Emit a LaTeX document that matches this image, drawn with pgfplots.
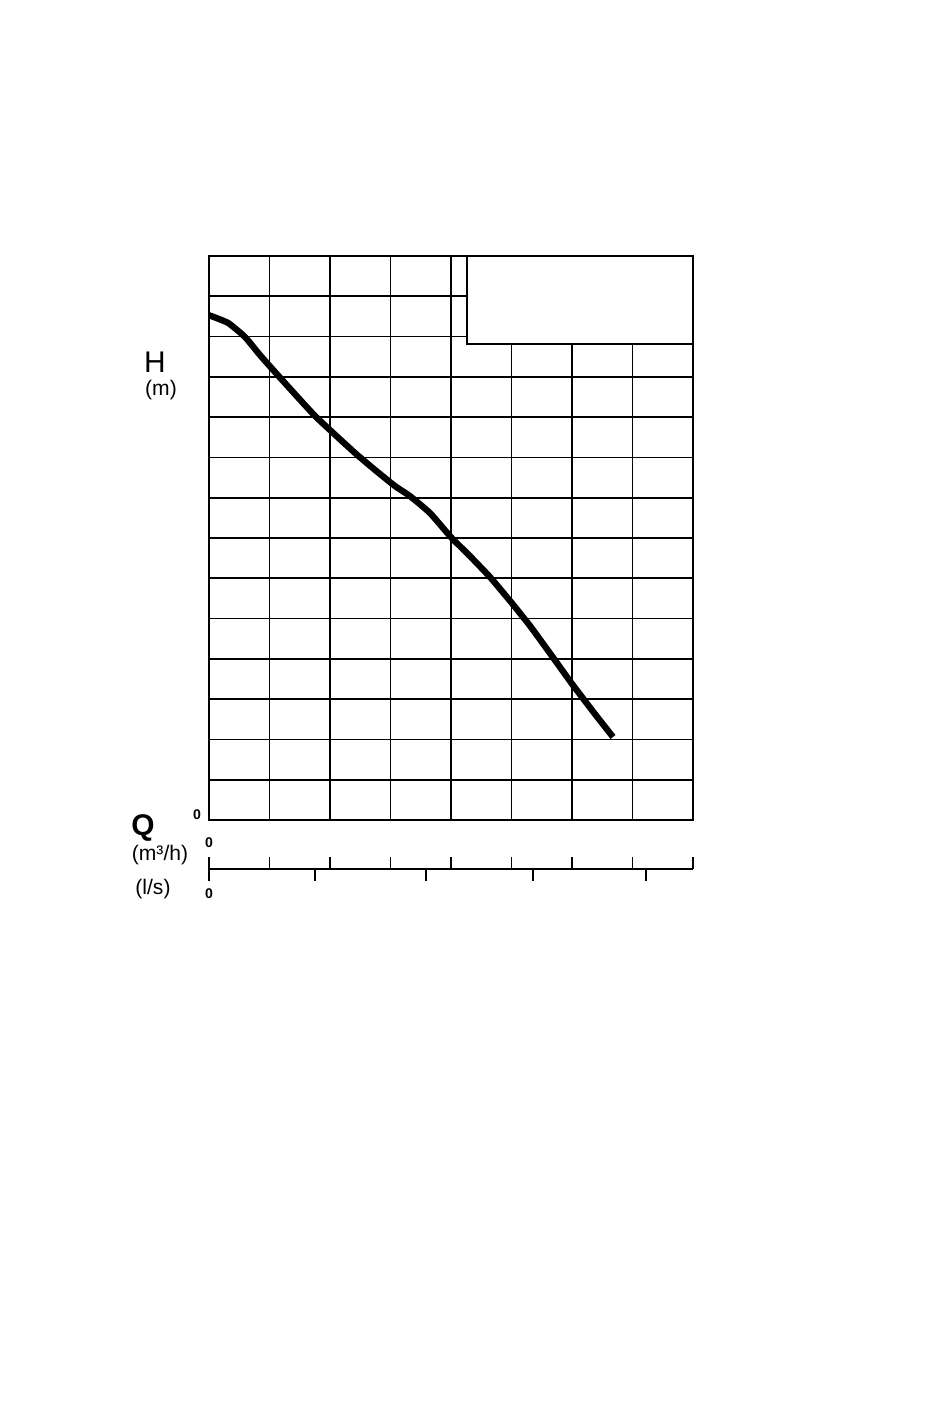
\documentclass[border=0pt]{standalone}
\usepackage{fontspec}
\setmainfont{Liberation Sans}
\usepackage{pgfplots}
\pgfplotsset{compat=1.18}

\begin{document}
\begin{tikzpicture}[x=1cm,y=1cm]
\path[use as bounding box] (0,0) rectangle (9.5,14.02);

% main H-Q grid
\begin{axis}[
    at={(2.09cm,5.82cm)}, anchor=south west,
    scale only axis, width=4.84cm, height=5.64cm,
    xmin=0, xmax=8, ymin=0, ymax=14,
    xtick={0,...,8}, ytick={0,...,14},
    xticklabels={}, yticklabels={},
    major tick length=0pt,
    grid=major,
    grid style={black, line width=0.5pt},
    axis line style={black, line width=0.5pt},
    clip=false,
    ]
\addplot[black, line width=1.8pt, smooth, tension=0.3] coordinates {
  (0,12.53) (0.314,12.34) (0.595,11.99) (0.843,11.54) (1.091,11.12)
  (1.421,10.57) (1.752,10.03) (2.0,9.68) (2.413,9.11) (2.744,8.69)
  (3.074,8.29) (3.322,8.04) (3.653,7.62) (4.0,7.02) (4.314,6.55)
  (4.645,6.03) (4.992,5.41) (5.306,4.82) (5.636,4.14) (6.0,3.38)
  (6.380,2.63) (6.678,2.06)
};
% legend / title box
\draw[black, line width=0.5pt, fill=white] (axis cs:4.264,11.81) rectangle (axis cs:8,14);
\end{axis}

% flow scales: m3/h above, l/s below
\begin{axis}[
    at={(2.09cm,5.33cm)}, anchor=south west,
    scale only axis, width=4.84cm, height=1cm,
    xmin=0, xmax=8, ymin=0, ymax=1,
    axis x line*=bottom, axis y line=none,
    xtick={0,...,8}, xticklabels={},
    tick align=inside,
    major tick length=0.12cm,
    extra x ticks={0,1.752,3.587,5.355,7.223},
    extra x tick labels={},
    extra x tick style={tick align=outside},
    tick style={black, line width=0.5pt},
    axis line style={black, line width=0.5pt, -},
    ]
\addplot[draw=none] coordinates {(0,0) (8,0)};
\end{axis}

\node at (1.55,10.40) {\fontsize{8.5}{9}\selectfont H};
\node at (1.61,10.12) {\fontsize{6}{7}\selectfont (m)};
\node at (1.97,5.87) {\fontsize{4}{5}\selectfont\bfseries 0};
\node at (1.43,5.74) {\fontsize{8.5}{9}\selectfont\bfseries Q};
\node at (1.60,5.47) {\fontsize{6}{7}\selectfont (m³/h)};
\node at (2.09,5.59) {\fontsize{4}{5}\selectfont\bfseries 0};
\node at (1.53,5.13) {\fontsize{6}{7}\selectfont (l/s)};
\node at (2.09,5.08) {\fontsize{4}{5}\selectfont\bfseries 0};
\end{tikzpicture}
\end{document}
